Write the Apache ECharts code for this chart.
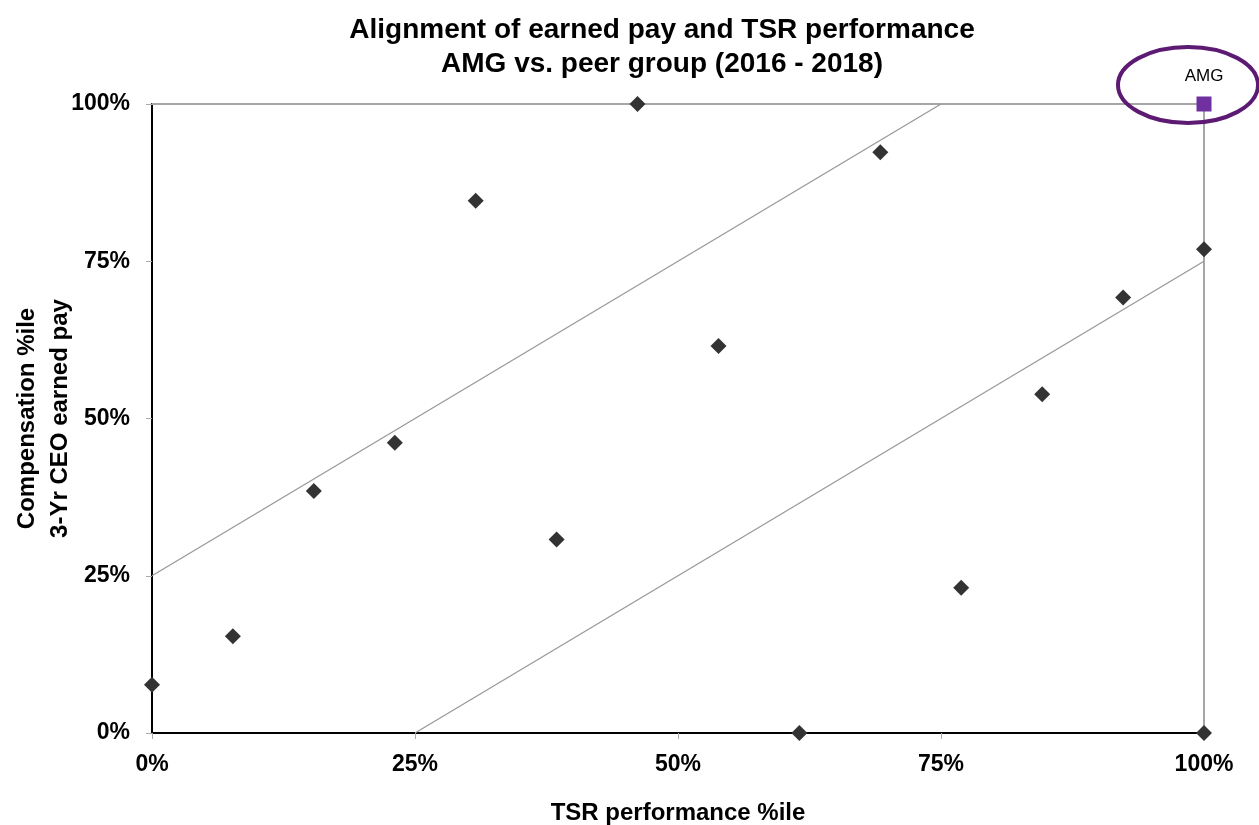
<!DOCTYPE html>
<html>
<head>
<meta charset="utf-8">
<script src="https://cdn.jsdelivr.net/npm/echarts@6/dist/echarts.min.js"></script>
<style>
  html, body { margin: 0; padding: 0; background: #fff; }
  #main { width: 1259px; height: 825px; }
</style>
</head>
<body>
<div id="main"></div>
<script>
// 同行组 (TSR %ile, 薪酬 %ile)
var peerX = [0, 7.69, 15.38, 23.08, 30.77, 38.46, 46.15, 53.85, 61.54, 69.23, 76.92, 84.62, 92.31, 100, 100];
var peerY = [7.69, 15.38, 38.46, 46.15, 84.62, 30.77, 100, 61.54, 0, 92.31, 23.08, 53.85, 69.23, 76.92, 0];
var amgPoint = [100, 100];
var upperBand = [[0, 25], [75, 100]];
var lowerBand = [[25, 0], [100, 75]];
var amgGuide = [[0, 100], [100, 100], [100, 0]];
var tickValues = [0, 25, 50, 75, 100];

var peerData = peerX.map(function (x, i) { return [x, peerY[i]]; });

var font = 'Liberation Sans, Arial, sans-serif';
var myChart = echarts.init(document.getElementById('main'));

var option = {
    animation: false,
    backgroundColor: '#fff',
    title: {
        text: 'Alignment of earned pay and TSR performance\nAMG vs. peer group (2016 - 2018)',
        left: 657,
        textAlign: 'center',
        top: 8,
        textStyle: { fontFamily: font, fontSize: 28, fontWeight: 'bold', color: '#000', lineHeight: 34 }
    },
    grid: { left: 152, right: 55, top: 104, bottom: 92, outerBoundsMode: 'none' },
    xAxis: {
        type: 'value', min: 0, max: 100, interval: 25,
        name: 'TSR performance %ile',
        nameLocation: 'middle', nameGap: 68, nameMoveOverlap: false,
        nameTextStyle: { fontFamily: font, fontSize: 24, fontWeight: 'bold', color: '#000' },
        axisLine: { show: true, lineStyle: { color: '#000', width: 2 } },
        axisTick: { show: true, length: 6, lineStyle: { color: '#aaa' } },
        axisLabel: {
            margin: 20, fontFamily: font, fontSize: 23, fontWeight: 'bold', color: '#000',
            formatter: function (v) { return tickValues.indexOf(v) >= 0 ? v + '%' : ''; }
        },
        splitLine: { show: false }
    },
    yAxis: {
        type: 'value', min: 0, max: 100, interval: 25,
        name: 'Compensation %ile\n3-Yr CEO earned pay',
        nameLocation: 'middle', nameGap: 75, nameMoveOverlap: false,
        nameTextStyle: { fontFamily: font, fontSize: 24, fontWeight: 'bold', color: '#000', lineHeight: 33 },
        axisLine: { show: true, lineStyle: { color: '#000', width: 2 } },
        axisTick: { show: true, length: 6, lineStyle: { color: '#aaa' } },
        axisLabel: {
            margin: 22, fontFamily: font, fontSize: 23, fontWeight: 'bold', color: '#000',
            formatter: function (v) { return v + '%'; }
        },
        splitLine: { show: false }
    },
    series: [
        {
            name: 'guide', type: 'line', data: amgGuide, symbol: 'none', silent: true,
            lineStyle: { color: '#a6a6a6', width: 2 }, z: 1
        },
        {
            name: 'upper', type: 'line', data: upperBand, symbol: 'none', silent: true,
            lineStyle: { color: '#999', width: 1.3 }, z: 1
        },
        {
            name: 'lower', type: 'line', data: lowerBand, symbol: 'none', silent: true,
            lineStyle: { color: '#999', width: 1.3 }, z: 1
        },
        {
            name: 'Peers', type: 'scatter', data: peerData,
            symbol: 'diamond', symbolSize: [16, 16],
            itemStyle: { color: '#333', opacity: 1 }, z: 3
        },
        {
            name: 'AMG', type: 'scatter', data: [amgPoint],
            symbol: 'rect', symbolSize: 15,
            itemStyle: { color: '#7030A0', opacity: 1 }, z: 4,
            label: {
                show: true, position: 'top', distance: 12,
                formatter: 'AMG',
                fontFamily: font, fontSize: 17, color: '#000'
            }
        }
    ]
};
myChart.setOption(option);

// AMG 外圈椭圆
var p = myChart.convertToPixel({ gridIndex: 0 }, amgPoint);
myChart.setOption({
    graphic: [{
        type: 'ellipse',
        shape: { cx: p[0] - 16, cy: p[1] - 19, rx: 70, ry: 38 },
        style: { fill: 'none', stroke: '#5c1a72', lineWidth: 4 },
        z: 10
    }]
});
</script>
</body>
</html>
